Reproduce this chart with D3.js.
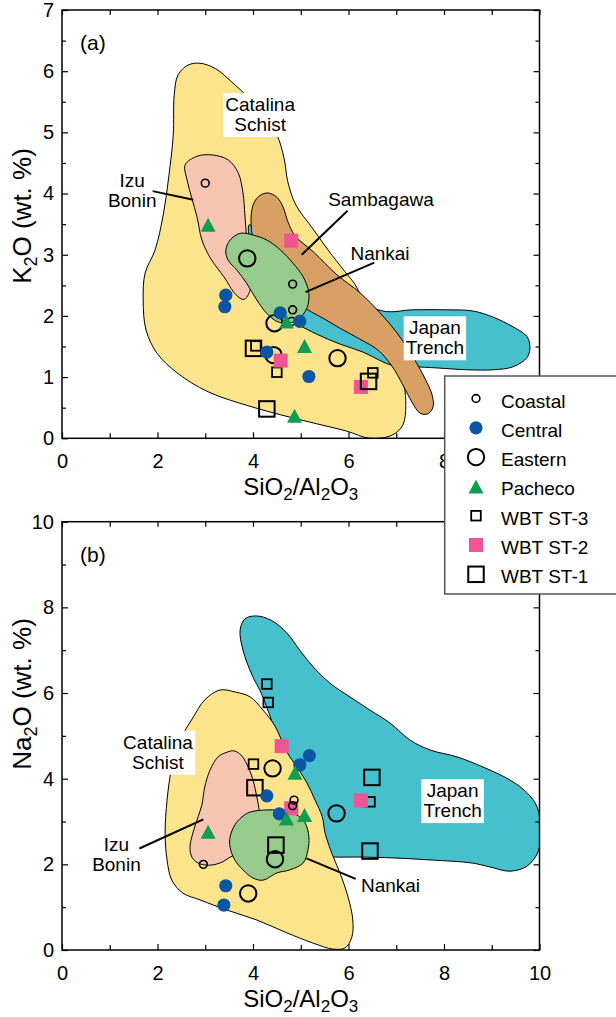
<!DOCTYPE html>
<html>
<head>
<meta charset="utf-8">
<script src="https://cdn.jsdelivr.net/npm/d3@7"></script>
<style>
  html, body { margin: 0; padding: 0; background: #fff; }
  svg { display: block; font-family: "Liberation Sans", Arial, Helvetica, sans-serif; }
</style>
</head>
<body>
<svg id="chart" width="616" height="1017"></svg>
<script>
// ---------- tick values and labels ----------
const xMajorTicks = [0, 2, 4, 6, 8, 10];
const xMinorTicks = [1, 3, 5, 7, 9];
const kMajorTicks = [0, 1, 2, 3, 4, 5, 6, 7];
const kMinorTicks = [0.5, 1.5, 2.5, 3.5, 4.5, 5.5, 6.5];
const naMajorTicks = [0, 2, 4, 6, 8, 10];
const naMinorTicks = [1, 3, 5, 7, 9];
// x labels of the upper panel that sit clear of the legend box
const xLabelsA = [0, 2, 4, 6, 8];
const xLabelsB = [0, 2, 4, 6, 8, 10];

// ---------- compositional fields, [SiO2/Al2O3, K2O] ----------
const catalinaA = [[2.89,6.13],[3.22,6.04],[3.56,5.82],[3.89,5.58],[4.23,5.27],[4.50,4.96],[4.65,4.58],[4.73,4.19],[4.90,3.81],[5.24,3.44],[5.57,3.08],[5.93,2.72],[6.14,2.51],[6.35,2.18],[6.91,1.45],[7.16,0.87],[7.20,0.54],[7.14,0.22],[6.91,0.05],[6.45,0.0],[5.95,0.12],[5.11,0.28],[4.04,0.50],[3.06,0.76],[2.41,1.07],[1.99,1.39],[1.76,1.77],[1.70,2.26],[1.74,2.70],[1.95,3.08],[2.12,3.65],[2.24,4.30],[2.33,4.96],[2.35,5.61],[2.43,5.94],[2.64,6.10]];
const japanA = [[3.92,3.49],[4.19,3.30],[4.98,2.81],[5.82,2.41],[6.72,2.08],[7.35,2.10],[8.06,2.10],[8.61,2.08],[9.03,1.98],[9.45,1.82],[9.74,1.66],[9.80,1.48],[9.74,1.32],[9.45,1.17],[9.03,1.12],[8.48,1.12],[7.85,1.15],[7.35,1.17],[6.97,1.18],[6.72,1.25],[6.30,1.41],[5.82,1.54],[5.34,1.70],[4.92,1.87],[4.65,2.00],[4.40,2.29],[4.10,2.78],[3.94,3.20]];
const sambagawaA = [[4.00,3.81],[4.13,3.96],[4.31,4.01],[4.50,3.94],[4.63,3.78],[4.73,3.54],[4.88,3.31],[5.26,3.05],[5.76,2.67],[6.24,2.38],[6.66,2.05],[7.02,1.72],[7.35,1.33],[7.60,0.98],[7.75,0.71],[7.77,0.51],[7.66,0.40],[7.50,0.41],[7.33,0.59],[7.14,0.87],[6.91,1.18],[6.62,1.44],[6.24,1.62],[5.82,1.80],[5.45,1.97],[5.15,2.10],[4.77,2.34],[4.36,2.67],[4.06,3.08],[3.96,3.49]];
const izuA = [[2.83,4.61],[3.16,4.63],[3.48,4.55],[3.69,4.34],[3.79,4.01],[3.83,3.65],[3.87,3.24],[3.94,2.78],[3.94,2.42],[3.81,2.27],[3.64,2.35],[3.39,2.64],[3.12,2.93],[2.93,3.24],[2.83,3.61],[2.72,3.92],[2.62,4.22],[2.58,4.47]];
const nankaiA = [[3.52,3.24],[3.73,3.35],[4.01,3.32],[4.29,3.24],[4.57,3.08],[4.84,2.86],[5.05,2.64],[5.16,2.42],[5.16,2.21],[5.09,2.07],[4.92,1.93],[4.71,1.88],[4.50,1.91],[4.29,2.04],[4.08,2.26],[3.87,2.53],[3.66,2.75],[3.48,2.91],[3.43,3.07]];

// ---------- compositional fields, [SiO2/Al2O3, Na2O] ----------
const japanB = [[3.73,7.47],[3.83,7.73],[4.06,7.80],[4.38,7.70],[4.71,7.40],[4.98,7.00],[5.26,6.61],[5.61,6.23],[6.03,5.91],[6.45,5.60],[6.87,5.30],[7.29,4.90],[7.71,4.67],[8.27,4.51],[8.82,4.27],[9.38,3.97],[9.74,3.67],[9.95,3.34],[10.03,2.80],[9.97,2.29],[9.74,1.96],[9.38,1.84],[8.96,1.94],[8.59,2.03],[7.75,2.10],[6.93,2.15],[6.24,2.17],[5.70,2.17],[5.45,2.19],[5.09,3.04],[4.67,4.44],[4.19,5.95],[3.98,6.42],[3.79,7.00]];
const catalinaB = [[3.31,6.07],[3.64,6.02],[3.94,5.91],[4.21,5.60],[4.46,5.23],[4.71,4.62],[4.92,4.27],[5.13,3.90],[5.30,3.50],[5.45,3.11],[5.51,2.73],[5.65,2.26],[5.82,1.80],[5.99,1.24],[6.09,0.70],[6.07,0.30],[5.93,0.05],[5.68,0.02],[5.26,0.16],[4.71,0.40],[4.08,0.70],[3.46,0.93],[2.89,1.17],[2.53,1.33],[2.30,1.63],[2.20,2.10],[2.16,2.73],[2.20,3.50],[2.30,4.27],[2.47,4.90],[2.74,5.42],[2.99,5.84]];
const izuB = [[3.46,4.62],[3.60,4.65],[3.75,4.55],[3.87,4.34],[4.00,3.97],[4.08,3.57],[4.13,3.22],[4.10,2.80],[3.83,2.33],[3.52,2.17],[3.35,2.05],[3.10,1.98],[2.85,2.03],[2.72,2.17],[2.68,2.40],[2.74,2.73],[2.85,3.11],[2.93,3.39],[2.99,3.81],[3.10,4.20],[3.27,4.51]];
const nankaiB = [[3.94,3.22],[4.29,3.27],[4.63,3.25],[4.92,3.15],[5.09,2.97],[5.17,2.64],[5.15,2.33],[5.05,2.03],[4.77,1.87],[4.50,1.80],[4.21,1.63],[4.00,1.68],[3.79,1.87],[3.62,2.10],[3.52,2.40],[3.52,2.64],[3.62,2.92],[3.77,3.11]];

// ---------- samples, panel (a): [SiO2/Al2O3, K2O] ----------
const coastalK = [[3.00,4.17],[4.83,2.52],[4.83,2.10],[4.81,1.91]];
const centralK = [[3.43,2.34],[3.41,2.15],[4.57,2.05],[4.98,1.91],[4.29,1.41],[5.17,1.01]];
const easternK = [[3.88,2.94],[4.45,1.88],[4.43,1.36],[5.77,1.31]];
const pachecoK = [[3.06,3.49],[4.70,1.91],[5.08,1.51],[4.87,0.37]];
const st3K = [[4.06,1.51],[4.50,1.08],[6.51,1.07]];
const st2K = [[4.80,3.23],[4.58,1.27],[6.26,0.84]];
const st1K = [[4.01,1.47],[4.29,0.48],[6.42,0.93]];

// ---------- samples, panel (b): [SiO2/Al2O3, Na2O] ----------
const coastalNa = [[2.96,2.00],[4.86,3.50],[4.83,3.37]];
const centralNa = [[5.18,4.54],[4.98,4.32],[4.29,3.60],[4.55,3.18],[3.43,1.50],[3.39,1.05]];
const easternNa = [[4.41,4.24],[5.75,3.19],[4.46,2.12],[3.90,1.32]];
const pachecoNa = [[4.88,4.14],[3.06,2.76],[4.70,3.07],[5.08,3.15]];
const st3Na = [[4.29,6.21],[4.32,5.78],[4.01,4.34],[6.45,3.46]];
const st2Na = [[4.60,4.76],[4.80,3.31],[6.26,3.49]];
const st1Na = [[4.04,3.79],[4.48,2.45],[6.49,4.03],[6.45,2.31]];

const legendNames = ["Coastal", "Central", "Eastern", "Pacheco", "WBT ST-3", "WBT ST-2", "WBT ST-1"];

// ---------- styling ----------
const COL = {
  catalina: "#FCE48C",
  izu: "#F8C5B3",
  sambagawa: "#D9A066",
  nankai: "#97CB8C",
  japan: "#45C0CC",
  blue: "#0B55A4",
  green: "#0F9D50",
  pink: "#EE5592"
};

const svg = d3.select("#chart");
const x = d3.scaleLinear().domain([0, 10]).range([62, 539.5]);
const yA = d3.scaleLinear().domain([0, 7]).range([438.3, 10]);
const yB = d3.scaleLinear().domain([0, 10]).range([950, 521.7]);

// marker painter: each sample group has its own symbol
function marker(g, type, cx, cy) {
  switch (type) {
    case "Coastal":
      g.append("circle").attr("cx", cx).attr("cy", cy).attr("r", 3.9)
        .attr("fill", "none").attr("stroke", "#000").attr("stroke-width", 1.6);
      break;
    case "Central":
      g.append("circle").attr("cx", cx).attr("cy", cy).attr("r", 6.6).attr("fill", COL.blue);
      break;
    case "Eastern":
      g.append("circle").attr("cx", cx).attr("cy", cy).attr("r", 8.2)
        .attr("fill", "none").attr("stroke", "#000").attr("stroke-width", 2);
      break;
    case "Pacheco": {
      const w = 15, h = 14;
      g.append("path")
        .attr("d", `M${cx},${cy - h / 2}L${cx + w / 2},${cy + h / 2}L${cx - w / 2},${cy + h / 2}Z`)
        .attr("fill", COL.green);
      break;
    }
    case "WBT ST-3": {
      const s = 9.6;
      g.append("rect").attr("x", cx - s / 2).attr("y", cy - s / 2).attr("width", s).attr("height", s)
        .attr("fill", "none").attr("stroke", "#000").attr("stroke-width", 1.8);
      break;
    }
    case "WBT ST-2": {
      const s = 14;
      g.append("rect").attr("x", cx - s / 2).attr("y", cy - s / 2).attr("width", s).attr("height", s)
        .attr("fill", COL.pink);
      break;
    }
    case "WBT ST-1": {
      const s = 15.5;
      g.append("rect").attr("x", cx - s / 2).attr("y", cy - s / 2).attr("width", s).attr("height", s)
        .attr("fill", "none").attr("stroke", "#000").attr("stroke-width", 2);
      break;
    }
  }
}

function subText(sel, parts, size, subSize, shift) {
  // parts: array of [string, isSubscript]
  let prevSub = false;
  parts.forEach(([s, sub]) => {
    const t = sel.append("tspan").text(s).attr("font-size", sub ? subSize : size);
    if (sub !== prevSub) t.attr("dy", sub ? shift : -shift);
    prevSub = sub;
  });
}

function drawPanel(opts) {
  const { y, top, bottom, fields, series, yMajor, yMinor, xLabels, yTitleParts, yTitleY, tag, clipId } = opts;
  const left = x.range()[0], right = x.range()[1];
  const g = svg.append("g");

  g.append("clipPath").attr("id", clipId)
    .append("rect").attr("x", left).attr("y", top).attr("width", right - left).attr("height", bottom - top);

  const line = d3.line().x(d => x(d[0])).y(d => y(d[1])).curve(d3.curveCatmullRomClosed.alpha(0.5));
  const fg = g.append("g").attr("clip-path", `url(#${clipId})`);
  fields.forEach(f => {
    fg.append("path").attr("d", line(f.pts)).attr("fill", f.color)
      .attr("stroke", "#000").attr("stroke-width", 1);
  });

  // axes with inward ticks on all four sides
  const fmt = d3.format("d");
  const axes = g.append("g").attr("font-family", "Liberation Sans, Arial, sans-serif");
  const add = (axis, tx, ty) => {
    const a = axes.append("g").attr("transform", `translate(${tx},${ty})`).call(axis);
    a.select(".domain").remove();
    a.selectAll("line").attr("stroke", "#000").attr("stroke-width", 1.2);
    a.selectAll("text").attr("font-size", 20).attr("fill", "#000");
    return a;
  };
  add(d3.axisBottom(x).tickValues(xMajorTicks).tickSizeInner(-6).tickSizeOuter(0).tickFormat(""), 0, bottom);
  add(d3.axisBottom(x).tickValues(xLabels).tickSize(0).tickPadding(16).tickFormat(fmt), 0, bottom);
  add(d3.axisBottom(x).tickValues(xMinorTicks).tickSizeInner(-5).tickSizeOuter(0).tickFormat(""), 0, bottom);
  add(d3.axisTop(x).tickValues(xMajorTicks.concat(xMinorTicks)).tickSizeInner(-5).tickSizeOuter(0).tickFormat(""), 0, top);
  add(d3.axisLeft(y).tickValues(yMajor).tickSizeInner(-6).tickSizeOuter(0).tickPadding(8).tickFormat(fmt), left, 0);
  add(d3.axisLeft(y).tickValues(yMinor).tickSizeInner(-4).tickSizeOuter(0).tickFormat(""), left, 0);
  add(d3.axisRight(y).tickValues(yMajor).tickSizeInner(-6).tickSizeOuter(0).tickFormat(""), right, 0);
  add(d3.axisRight(y).tickValues(yMinor).tickSizeInner(-4).tickSizeOuter(0).tickFormat(""), right, 0);

  g.append("rect").attr("x", left).attr("y", top).attr("width", right - left).attr("height", bottom - top)
    .attr("fill", "none").attr("stroke", "#000").attr("stroke-width", 1.5);

  // field labels (some on white boxes) and leader lines
  opts.leaders.forEach(l => {
    g.append("line").attr("x1", x(l[0][0])).attr("y1", y(l[0][1])).attr("x2", x(l[1][0])).attr("y2", y(l[1][1]))
      .attr("stroke", "#000").attr("stroke-width", 2);
  });
  opts.labels.forEach(lb => {
    const lg = g.append("g");
    const t = lg.append("text").attr("x", x(lb.at[0])).attr("y", y(lb.at[1]))
      .attr("text-anchor", "middle").attr("font-size", 19).attr("fill", "#000");
    lb.lines.forEach((s, i) => {
      t.append("tspan").attr("x", x(lb.at[0])).attr("dy", i === 0 ? 0 : 20).text(s);
    });
    if (lb.box) {
      const bb = t.node().getBBox();
      lg.insert("rect", "text").attr("x", bb.x - 2).attr("y", bb.y - 1)
        .attr("width", bb.width + 4).attr("height", bb.height + 3).attr("fill", "#fff");
    }
  });

  // sample points
  const mg = g.append("g");
  series.forEach(s => s.pts.forEach(p => marker(mg, s.name, x(p[0]), y(p[1]))));

  // panel tag
  g.append("text").attr("x", 80).attr("y", top + 40).attr("font-size", 21).text(tag);

  // axis titles
  const xt = g.append("text").attr("x", (left + right) / 2).attr("y", bottom + 57)
    .attr("text-anchor", "middle").attr("font-size", 24);
  subText(xt, [["SiO", false], ["2", true], ["/Al", false], ["2", true], ["O", false], ["3", true]], 24, 17, 5);
  const yt = g.append("text").attr("transform", `translate(31,${yTitleY}) rotate(-90)`)
    .attr("text-anchor", "middle").attr("font-size", 26);
  subText(yt, yTitleParts, 26, 18, 6);
}

drawPanel({
  y: yA, top: 10, bottom: 438.3, clipId: "clipA", tag: "(a)",
  yMajor: kMajorTicks, yMinor: kMinorTicks, xLabels: xLabelsA, yTitleY: 216,
  yTitleParts: [["K", false], ["2", true], ["O (wt. %)", false]],
  fields: [
    { pts: catalinaA, color: COL.catalina },
    { pts: japanA, color: COL.japan },
    { pts: sambagawaA, color: COL.sambagawa },
    { pts: izuA, color: COL.izu },
    { pts: nankaiA, color: COL.nankai }
  ],
  leaders: [
    [[1.90, 4.04], [2.75, 3.90]],
    [[5.98, 3.72], [5.02, 3.00]],
    [[6.54, 2.87], [5.10, 2.39]]
  ],
  labels: [
    { at: [4.15, 5.35], lines: ["Catalina", "Schist"], box: true },
    { at: [1.47, 4.10], lines: ["Izu", "Bonin"] },
    { at: [6.68, 3.79], lines: ["Sambagawa"] },
    { at: [6.66, 2.91], lines: ["Nankai"] },
    { at: [7.81, 1.70], lines: ["Japan", "Trench"], box: true }
  ],
  series: [
    { name: "WBT ST-3", pts: st3K },
    { name: "Eastern", pts: easternK },
    { name: "WBT ST-2", pts: st2K },
    { name: "WBT ST-1", pts: st1K },
    { name: "Coastal", pts: coastalK },
    { name: "Central", pts: centralK },
    { name: "Pacheco", pts: pachecoK }
  ]
});

drawPanel({
  y: yB, top: 521.7, bottom: 950, clipId: "clipB", tag: "(b)",
  yMajor: naMajorTicks, yMinor: naMinorTicks, xLabels: xLabelsB, yTitleY: 694,
  yTitleParts: [["Na", false], ["2", true], ["O (wt. %)", false]],
  fields: [
    { pts: japanB, color: COL.japan },
    { pts: catalinaB, color: COL.catalina },
    { pts: izuB, color: COL.izu },
    { pts: nankaiB, color: COL.nankai }
  ],
  leaders: [
    [[1.62, 2.37], [2.96, 3.05]],
    [[6.15, 1.66], [5.12, 2.14]]
  ],
  labels: [
    { at: [2.01, 4.70], lines: ["Catalina", "Schist"], box: true },
    { at: [1.14, 2.30], lines: ["Izu", "Bonin"] },
    { at: [6.88, 1.35], lines: ["Nankai"] },
    { at: [8.18, 3.57], lines: ["Japan", "Trench"], box: true }
  ],
  series: [
    { name: "WBT ST-3", pts: st3Na },
    { name: "Eastern", pts: easternNa },
    { name: "WBT ST-2", pts: st2Na },
    { name: "WBT ST-1", pts: st1Na },
    { name: "Coastal", pts: coastalNa },
    { name: "Central", pts: centralNa },
    { name: "Pacheco", pts: pachecoNa }
  ]
});

// legend, straddling both panels
const lg = svg.append("g");
lg.append("rect").attr("x", 444.7).attr("y", 376).attr("width", 190).attr("height", 218)
  .attr("fill", "#fff").attr("stroke", "#555").attr("stroke-width", 1.5);
legendNames.forEach((name, i) => {
  const cy = 398.5 + i * 29.3;
  marker(lg, name, 476, cy);
  lg.append("text").attr("x", 501).attr("y", cy + 9).attr("font-size", 19).text(name);
});
</script>
</body>
</html>
